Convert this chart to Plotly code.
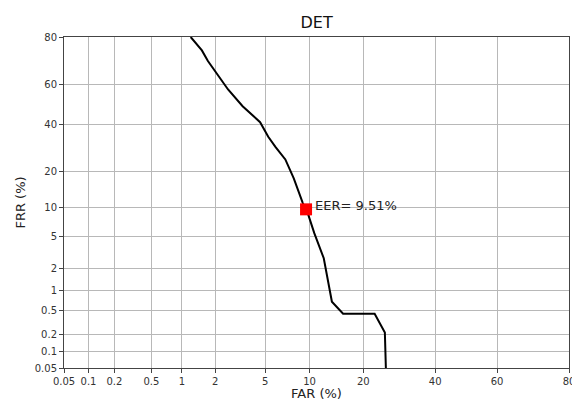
import plotly.graph_objects as go
from statistics import NormalDist

# Data (percent)
far = [1.21, 1.53, 1.73, 2.0, 2.57, 3.37, 3.97, 4.59, 5.27, 5.93, 6.95, 7.92, 9.07,
       9.83, 10.7, 12.2, 13.6, 15.7, 22.7, 25.3, 25.6]
frr = [80.0, 75.0, 70.6, 66.2, 57.4, 49.1, 44.7, 41.2, 34.3, 29.8, 24.6, 17.8, 10.9,
       8.4, 5.4, 2.74, 0.69, 0.45, 0.45, 0.22, 0.04]
eer = 9.51
tick_vals = [0.05, 0.1, 0.2, 0.5, 1, 2, 5, 10, 20, 40, 60, 80]
tick_text = ["0.05", "0.1", "0.2", "0.5", "1", "2", "5", "10", "20", "40", "60", "80"]

nd = NormalDist()
def probit(p):
    return nd.inv_cdf(p / 100.0)

xs = [probit(v) for v in far]
ys = [probit(v) for v in frr]
tv = [probit(v) for v in tick_vals]
lo, hi = probit(0.05) - 1e-6, probit(80) + 1e-6

fig = go.Figure()
fig.add_trace(go.Scatter(x=xs, y=ys, mode="lines",
                         line=dict(color="black", width=2), showlegend=False,
                         cliponaxis=True))
fig.add_trace(go.Scatter(x=[probit(eer)], y=[probit(eer)], mode="markers",
                         marker=dict(symbol="square", color="red", size=12,
                                     line=dict(width=0)),
                         showlegend=False))
fig.add_annotation(x=probit(eer), y=probit(eer), text="EER= %.2f%%" % eer,
                   showarrow=False, xanchor="left", yanchor="middle",
                   xshift=7, yshift=4,
                   font=dict(family="DejaVu Sans", size=13, color="#222"))

axis_common = dict(
    tickmode="array", tickvals=tv, ticktext=tick_text,
    showgrid=True, gridcolor="#b8b8b8", gridwidth=1,
    zeroline=False, showline=True, linecolor="#444", linewidth=1, mirror=True,
    ticks="outside", ticklen=4, tickcolor="#444", automargin=False,
    ticklabeloverflow="allow",
    tickfont=dict(family="DejaVu Sans", size=10, color="#333"),
)
fig.update_xaxes(range=[lo, hi], title=dict(text="FAR (%)", standoff=7,
                 font=dict(family="DejaVu Sans", size=13, color="#222")), **axis_common)
fig.update_yaxes(range=[lo, hi], title=dict(text="FRR (%)", standoff=6,
                 font=dict(family="DejaVu Sans", size=13, color="#222")), **axis_common)

fig.update_layout(
    width=572, height=401,
    margin=dict(l=64, r=3, t=37, b=33),
    paper_bgcolor="white", plot_bgcolor="white",
    title=dict(text="DET", x=0.5535, xanchor="center", y=1 - 22 / 401, yanchor="middle",
               font=dict(family="DejaVu Sans", size=16, color="#111")),
)
fig.write_html("out.html")
